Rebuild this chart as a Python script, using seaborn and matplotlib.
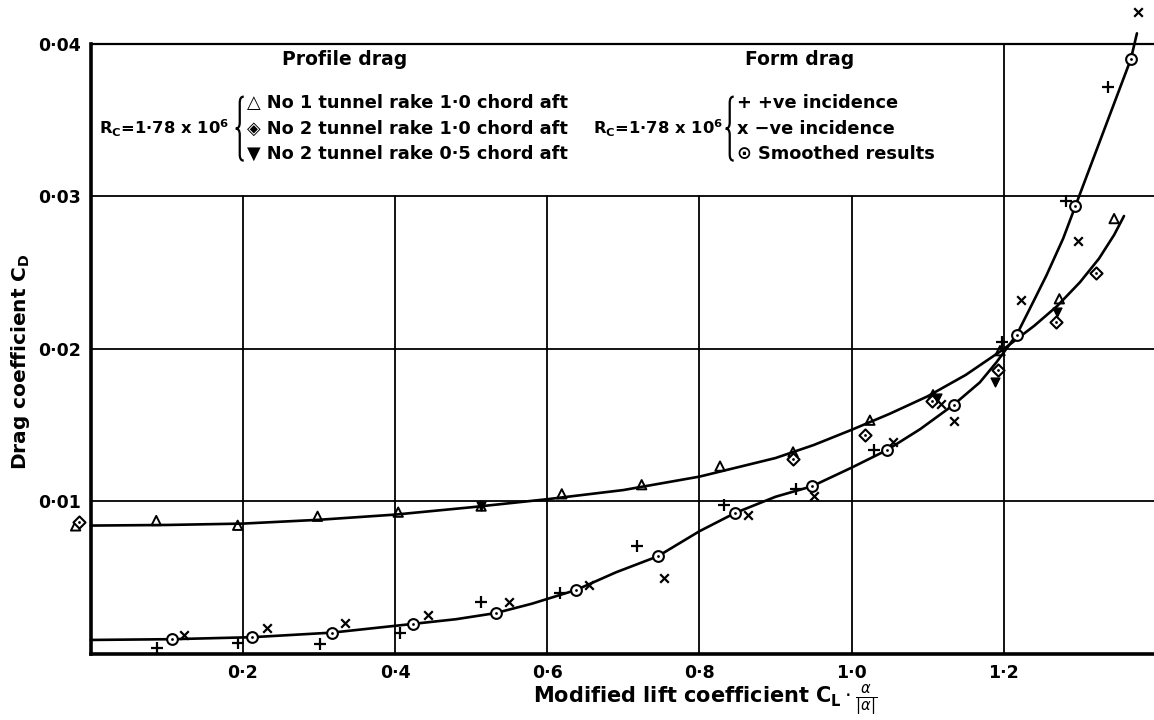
import matplotlib
matplotlib.use("Agg")
import matplotlib.pyplot as plt
from matplotlib.path import Path
from matplotlib.patches import PathPatch
import seaborn as sns

# ---- Profile drag, Rc = 1.78 x 10^6 ----
# No 1 tunnel, rake 1.0 chord aft (open triangles)
rake1_x = [-0.02, 0.086, 0.193, 0.298, 0.404, 0.513, 0.619, 0.724, 0.827,
           0.923, 1.024, 1.107, 1.195, 1.273, 1.345]
rake1_y = [0.0084, 0.00875, 0.00844, 0.00903, 0.0093, 0.0097, 0.0105, 0.0111,
           0.01232, 0.01325, 0.01533, 0.0170, 0.01989, 0.02329, 0.02855]
# No 2 tunnel, rake 1.0 chord aft (diamonds)
rake2_x = [-0.015, 0.9226, 1.018, 1.105, 1.1925, 1.269, 1.3218]
rake2_y = [0.00864, 0.01276, 0.01434, 0.0166, 0.01864, 0.0218, 0.025]
# No 2 tunnel, rake 0.5 chord aft (inverted triangles)
rake3_x = [0.513, 1.112, 1.188, 1.270]
rake3_y = [0.0097, 0.0168, 0.01781, 0.0224]
# faired profile-drag curve
profile_x = [0.0, 0.1, 0.2, 0.3, 0.4, 0.5, 0.6, 0.7, 0.8, 0.9, 0.95, 1.0,
             1.05, 1.1, 1.15, 1.2, 1.24, 1.27, 1.3, 1.325, 1.345, 1.358]
profile_y = [0.00842, 0.00846, 0.00855, 0.0088, 0.00914, 0.00962, 0.01015,
             0.01075, 0.01163, 0.01285, 0.0137, 0.0147, 0.01575, 0.0169,
             0.0183, 0.0200, 0.02152, 0.02281, 0.02437, 0.02592, 0.02748,
             0.02872]

# ---- Form drag, Rc = 1.78 x 10^6 ----
pos_x = [0.087, 0.193, 0.301, 0.407, 0.513, 0.617, 0.718, 0.832, 0.927,
         1.030, 1.198, 1.282, 1.337]
pos_y = [0.00037, 0.0007, 0.00064, 0.0014, 0.00344, 0.004, 0.00706, 0.00974,
         0.01079, 0.01336, 0.02044, 0.0297, 0.03715]
neg_x = [0.122, 0.231, 0.334, 0.443, 0.550, 0.655, 0.753, 0.864, 0.950,
         1.054, 1.118, 1.135, 1.222, 1.297, 1.376]
neg_y = [0.00125, 0.00169, 0.002, 0.00257, 0.00338, 0.0045, 0.00498, 0.00914,
         0.01035, 0.0139, 0.0164, 0.01528, 0.02324, 0.02706, 0.04211]
smooth_x = [0.107, 0.212, 0.317, 0.423, 0.532, 0.638, 0.745, 0.847, 0.948,
            1.046, 1.134, 1.217, 1.294, 1.367]
smooth_y = [0.00097, 0.0011, 0.0014, 0.00197, 0.00268, 0.0042, 0.0064,
            0.00925, 0.011, 0.01336, 0.01634, 0.02094, 0.02936, 0.03901]
# faired form-drag curve
form_x = [0.0, 0.107, 0.212, 0.317, 0.423, 0.48, 0.532, 0.58, 0.638, 0.69,
          0.745, 0.80, 0.847, 0.90, 0.948, 1.0, 1.046, 1.09, 1.134, 1.1685,
          1.1904, 1.217, 1.2385, 1.256, 1.278, 1.294, 1.367, 1.375]
form_y = [0.00092, 0.00097, 0.0011, 0.0014, 0.00197, 0.00228, 0.00268,
          0.0033, 0.0042, 0.00535, 0.0064, 0.00805, 0.00925, 0.01031, 0.011,
          0.01222, 0.01336, 0.01474, 0.01634, 0.01781, 0.01913, 0.02094,
          0.02307, 0.02482, 0.02724, 0.02936, 0.03901, 0.0407]

x_ticks = [0.2, 0.4, 0.6, 0.8, 1.0, 1.2]
x_tick_labels = ["0·2", "0·4", "0·6", "0·8", "1·0", "1·2"]
y_ticks = [0.01, 0.02, 0.03, 0.04]
y_tick_labels = ["0·01", "0·02", "0·03", "0·04"]

sns.set_style("white")
plt.rcParams["font.family"] = ["DejaVu Sans"]
plt.rcParams["mathtext.fontset"] = "dejavusans"

fig = plt.figure(figsize=(11.54, 7.2), dpi=100)
ax = fig.add_axes([0.0787, 0.0917, 0.923, 0.8472])
ax.set_xlim(0, 1.4)
ax.set_ylim(0, 0.04)

# grid: verticals stop under the key panel, except the 1.2 line
for gx in x_ticks[:-1]:
    ax.axvline(gx, ymax=0.75, color="black", lw=1.3, zorder=1)
ax.axvline(x_ticks[-1], color="black", lw=1.3, zorder=1)
for gy in y_ticks[:-1]:
    ax.axhline(gy, color="black", lw=1.3, zorder=1)

for side in ("left", "bottom"):
    ax.spines[side].set_linewidth(2.6)
    ax.spines[side].set_color("black")
ax.spines["top"].set_linewidth(1.6)
ax.spines["top"].set_color("black")
ax.spines["right"].set_visible(False)

# curves
sns.lineplot(x=profile_x, y=profile_y, ax=ax, color="black", lw=1.9,
             estimator=None, sort=False, clip_on=False, zorder=2)
sns.lineplot(x=form_x, y=form_y, ax=ax, color="black", lw=1.9,
             estimator=None, sort=False, clip_on=False, zorder=2)

mk = dict(ax=ax, clip_on=False, zorder=3, legend=False)
sns.scatterplot(x=rake1_x, y=rake1_y, marker="^", s=45, fc="none",
                ec="black", linewidth=1.4, **mk)
sns.scatterplot(x=rake2_x, y=rake2_y, marker="D", s=38, fc="white",
                ec="black", linewidth=1.5, **mk)
sns.scatterplot(x=rake2_x, y=rake2_y, marker="o", s=4, color="black",
                linewidth=0, **mk)
sns.scatterplot(x=rake3_x, y=rake3_y, marker="v", s=40, color="black",
                ec="black", linewidth=1.0, **mk)
sns.scatterplot(x=pos_x, y=pos_y, marker="+", s=75, color="black",
                linewidth=1.6, **mk)
sns.scatterplot(x=neg_x, y=neg_y, marker="x", s=38, color="black",
                linewidth=1.6, **mk)
sns.scatterplot(x=smooth_x, y=smooth_y, marker="o", s=60, fc="white",
                ec="black", linewidth=1.5, **mk)
sns.scatterplot(x=smooth_x, y=smooth_y, marker="o", s=4, color="black",
                linewidth=0, **mk)

ax.set_xticks(x_ticks)
ax.set_xticklabels(x_tick_labels)
ax.set_yticks(y_ticks)
ax.set_yticklabels(y_tick_labels)
ax.tick_params(length=0, labelsize=12.5, pad=7, colors="black")
for lab in ax.get_xticklabels() + ax.get_yticklabels():
    lab.set_fontweight("bold")

ax.set_xlabel(r"Modified lift coefficient $\mathbf{C_L}\cdot\frac{\alpha}{|\alpha|}$",
              fontsize=15, fontweight="bold", color="black")
ax.xaxis.set_label_coords(0.577, -0.047)
ax.set_ylabel(r"Drag coefficient $\mathbf{C_D}$", fontsize=14.5,
              fontweight="bold", color="black")
ax.yaxis.set_label_coords(-0.055, 0.48)


def curly_brace(x0, yc, half_h, w, q):
    """Left curly brace: tip at (x0, yc), arms reaching x0 + w."""
    xm = x0 + w / 2
    verts = [(x0 + w, yc + half_h), (xm, yc + half_h), (xm, yc + half_h - q),
             (xm, yc + q), (xm, yc), (x0, yc),
             (xm, yc), (xm, yc - q),
             (xm, yc - half_h + q), (xm, yc - half_h), (x0 + w, yc - half_h)]
    codes = [Path.MOVETO, Path.CURVE3, Path.CURVE3,
             Path.LINETO, Path.CURVE3, Path.CURVE3,
             Path.CURVE3, Path.CURVE3,
             Path.LINETO, Path.CURVE3, Path.CURVE3]
    ax.add_patch(PathPatch(Path(verts, codes), fc="none", ec="black",
                           lw=1.6, zorder=3))


# key panel
txt = dict(fontweight="bold", color="black", va="center")
ax.text(0.333, 0.0390, "Profile drag", ha="center", fontsize=13.5, **txt)
ax.text(0.932, 0.0390, "Form drag", ha="center", fontsize=13.5, **txt)
rows_y = [0.0361, 0.03445, 0.0328]
rc_label = r"R$_\mathbf{C}$=1·78 x 10$^\mathbf{6}$"
ax.text(0.182, rows_y[1], rc_label, ha="right", fontsize=11.8, **txt)
ax.text(0.8307, rows_y[1], rc_label, ha="right", fontsize=11.8, **txt)
for bx in (0.1905, 0.8345):
    curly_brace(bx, rows_y[1], 0.0021, 0.0105, 0.0004)
left_rows = ["△ No 1 tunnel rake 1·0 chord aft",
             "◈ No 2 tunnel rake 1·0 chord aft",
             "▼ No 2 tunnel rake 0·5 chord aft"]
right_rows = ["+ +ve incidence", "x −ve incidence", "⊙ Smoothed results"]
for ry, lt, rt in zip(rows_y, left_rows, right_rows):
    ax.text(0.2055, ry, lt, ha="left", fontsize=12.8, **txt)
    ax.text(0.8498, ry, rt, ha="left", fontsize=12.8, **txt)

fig.savefig("out.png", dpi=100, facecolor="white")
